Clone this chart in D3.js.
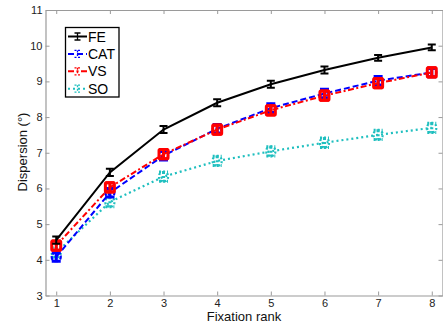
<!DOCTYPE html>
<html>
<head>
<meta charset="utf-8">
<script src="https://cdn.jsdelivr.net/npm/d3@7"></script>
<style>
  body { margin: 0; background: #fff; }
  text { font-family: "Liberation Sans", Arial, sans-serif; }
</style>
</head>
<body>
<div id="chart"></div>
<script>
// Data
var ranks = [1, 2, 3, 4, 5, 6, 7, 8];
var feValues  = [4.55, 6.45, 7.65, 8.40, 8.92, 9.32, 9.66, 9.95];
var catValues = [4.08, 5.88, 6.92, 7.67, 8.25, 8.66, 9.02, 9.25];
var vsValues  = [4.40, 6.03, 6.96, 7.65, 8.19, 8.60, 8.95, 9.25];
var soValues  = [4.20, 5.62, 6.33, 6.77, 7.04, 7.28, 7.50, 7.70];
var feErr  = [0.10, 0.10, 0.10, 0.10, 0.10, 0.10, 0.08, 0.08];
var catErr = [0.12, 0.12, 0.12, 0.12, 0.12, 0.12, 0.12, 0.12];
var vsErr  = [0.13, 0.13, 0.13, 0.13, 0.13, 0.13, 0.13, 0.13];
var soErr  = [0.13, 0.13, 0.13, 0.13, 0.13, 0.13, 0.13, 0.13];
var yTicks = [3, 4, 5, 6, 7, 8, 9, 10, 11];

var w = 443;
var h = 326;

var xScale = d3.scaleLinear().domain([0.8, 8.2]).range([45.5, 442.5]);
var yScale = d3.scaleLinear().domain([3, 11]).range([295.5, 10]);

var series = [
    { name: "FE",  values: feValues,  err: feErr,  color: "#000000", dash: null,        width: 2 },
    { name: "CAT", values: catValues, err: catErr, color: "#0000ff", dash: "6,3",       width: 2 },
    { name: "VS",  values: vsValues,  err: vsErr,  color: "#ff0000", dash: "6,2.5,2,2.5", width: 2 },
    { name: "SO",  values: soValues,  err: soErr,  color: "#1fbfbf", dash: "2,3",       width: 2.2 }
];

var svg = d3.select("#chart")
    .append("svg")
    .attr("width", w)
    .attr("height", h);

// axes box (light grey, ticks pointing inward)
var axisColor = "#9a9a9a";
var axBottom = svg.append("g")
    .attr("transform", "translate(0," + yScale(3) + ")")
    .call(d3.axisBottom(xScale).tickValues(ranks).tickSizeInner(-4).tickSizeOuter(0).tickPadding(4));
var axTop = svg.append("g")
    .attr("transform", "translate(0," + yScale(11) + ")")
    .call(d3.axisTop(xScale).tickValues(ranks).tickSizeInner(-4).tickSizeOuter(0).tickFormat(""));
var axLeft = svg.append("g")
    .attr("transform", "translate(" + xScale(0.8) + ",0)")
    .call(d3.axisLeft(yScale).tickValues(yTicks).tickSizeInner(-4).tickSizeOuter(0).tickPadding(3));
var axRight = svg.append("g")
    .attr("transform", "translate(" + xScale(8.2) + ",0)")
    .call(d3.axisRight(yScale).tickValues(yTicks).tickSizeInner(-4).tickSizeOuter(0).tickFormat(""));

[axBottom, axTop, axLeft, axRight].forEach(function(g) {
    g.select(".domain").attr("stroke", axisColor).attr("stroke-width", 1.2);
    g.selectAll(".tick line").attr("stroke", axisColor);
    g.selectAll(".tick text")
        .attr("fill", "#222")
        .style("font-size", "11px")
        .style("font-family", "'Liberation Sans', Arial, sans-serif");
});

// lines
var line = d3.line()
    .x(function(d, i) { return xScale(ranks[i]); })
    .y(function(d) { return yScale(d); });

// draw from back to front: SO, CAT, VS, FE
var order = [series[3], series[1], series[2], series[0]];
order.forEach(function(s) {
    var g = svg.append("g");
    g.append("path")
        .datum(s.values)
        .attr("d", line)
        .attr("fill", "none")
        .attr("stroke", s.color)
        .attr("stroke-width", s.width)
        .attr("stroke-dasharray", s.dash);

    // error bars
    g.selectAll("path.err")
        .data(s.values)
        .enter()
        .append("path")
        .attr("class", "err")
        .attr("d", function(d, i) {
            var x = xScale(ranks[i]);
            var y0 = yScale(d - s.err[i]);
            var y1 = yScale(d + s.err[i]);
            var c = s.name === "FE" ? 4 : 4.5;
            return "M" + (x - c) + "," + y1 + "H" + (x + c) +
                   "M" + x + "," + y1 + "V" + y0 +
                   "M" + (x - c) + "," + y0 + "H" + (x + c);
        })
        .attr("fill", "none")
        .attr("stroke", s.color)
        .attr("stroke-width", s.name === "FE" ? 2 : 3)
        .attr("stroke-dasharray", s.name === "SO" ? "2,2" : null);

    if (s.name !== "FE") {
        g.selectAll("rect.mk")
            .data(s.values)
            .enter()
            .append("rect")
            .attr("class", "mk")
            .attr("x", function(d, i) { return xScale(ranks[i]) - 4.5; })
            .attr("y", function(d, i) { return yScale(d + s.err[i]); })
            .attr("width", 9)
            .attr("height", function(d, i) { return yScale(d - s.err[i]) - yScale(d + s.err[i]); })
            .attr("rx", s.name === "VS" ? 1 : 4)
            .attr("fill", "none")
            .attr("stroke", s.color)
            .attr("stroke-width", s.name === "VS" ? 3 : 2.2)
            .attr("stroke-dasharray", s.name === "SO" ? "2,2" : (s.name === "CAT" ? "4,2" : null));
    }
});

// axis labels
svg.append("text")
    .attr("x", (xScale(0.8) + xScale(8.2)) / 2)
    .attr("y", 320.5)
    .attr("text-anchor", "middle")
    .style("font-size", "13px")
    .attr("fill", "#111")
    .text("Fixation rank");

svg.append("text")
    .attr("transform", "translate(27,152) rotate(-90)")
    .attr("text-anchor", "middle")
    .style("font-size", "13px")
    .attr("fill", "#111")
    .text("Dispersion (°)");

// legend
var legend = svg.append("g");
legend.append("rect")
    .attr("x", 65.5)
    .attr("y", 27.5)
    .attr("width", 53.5)
    .attr("height", 69.5)
    .attr("fill", "#fff")
    .attr("stroke", "#000")
    .attr("stroke-width", 1.3);

series.forEach(function(s, i) {
    var y = 36.5 + i * 17.4;
    legend.append("line")
        .attr("x1", 68)
        .attr("x2", 87)
        .attr("y1", y)
        .attr("y2", y)
        .attr("stroke", s.color)
        .attr("stroke-width", 2)
        .attr("stroke-dasharray", s.dash);
    legend.append("path")
        .attr("d", "M74.5," + (y - 3.5) + "H80.5M77.5," + (y - 3.5) + "V" + (y + 3.5) + "M74.5," + (y + 3.5) + "H80.5")
        .attr("fill", "none")
        .attr("stroke", s.color)
        .attr("stroke-width", 1.3)
        .attr("stroke-dasharray", s.name === "FE" ? null : "2,1.5");
    legend.append("text")
        .attr("x", 88)
        .attr("y", y + 5)
        .style("font-size", "14px")
        .attr("fill", "#000")
        .text(s.name);
});
</script>
</body>
</html>
